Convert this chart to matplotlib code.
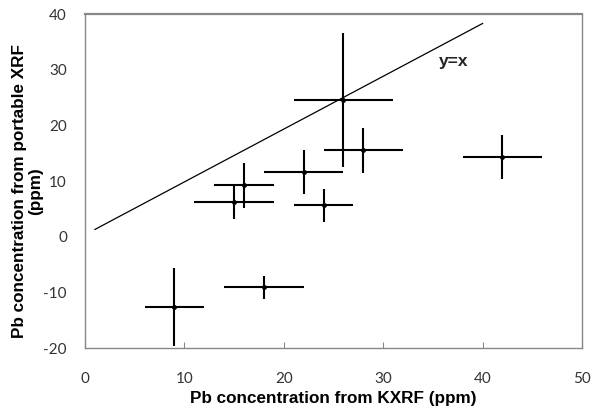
import matplotlib
matplotlib.use("Agg")
import matplotlib.pyplot as plt

plt.rcParams["axes.unicode_minus"] = False

# Data
x_kxrf = [9, 18, 15, 16, 22, 24, 26, 28, 42]
y_pxrf = [-12.7, -9.1, 6.2, 9.2, 11.6, 5.6, 24.5, 15.5, 14.3]
x_err = [3, 4, 4, 3, 4, 3, 5, 4, 4]
y_err = [7, 2.1, 3, 4, 4, 3, 12, 4, 4]

line_x = [1, 40]
line_y = [1.3, 38.3]

x_ticks = [0, 10, 20, 30, 40, 50]
y_ticks = [-20, -10, 0, 10, 20, 30, 40]

fig = plt.figure(figsize=(6.0, 4.19), dpi=100)
ax = fig.add_axes([85/600, 1-348/419, (582-85)/600, (348-14)/419])

ax.plot(line_x, line_y, color="black", lw=0.9)
ax.errorbar(x_kxrf, y_pxrf, xerr=x_err, yerr=y_err, fmt="o", color="black",
            ms=2.5, elinewidth=1.5, capsize=0)
ax.text(37.1, 31.5, "y=x", ha="center", va="center", fontsize=12.5,
        fontweight="bold", family="Liberation Sans", color="#222222")

ax.set_xlim(0, 50)
ax.set_ylim(-20, 40)
ax.set_xticks(x_ticks)
ax.set_yticks(y_ticks)
ax.tick_params(axis="x", direction="in", length=4, width=0.8, color="#888888",
               pad=17, labelsize=11, labelcolor="#333333")
ax.tick_params(axis="y", length=0, pad=13, labelsize=11, labelcolor="#333333")
for lab in ax.get_xticklabels() + ax.get_yticklabels():
    lab.set_family("Lato")
for sp in ax.spines.values():
    sp.set_color("#888888")
    sp.set_linewidth(1.0)
ax.spines["top"].set_linewidth(1.6)

ax.set_xlabel("Pb concentration from KXRF (ppm)", fontsize=12.3, fontweight="bold",
              family="Liberation Sans")
ax.set_ylabel("Pb concentration from portable XRF\n(ppm)", fontsize=12.3,
              fontweight="bold", family="Liberation Sans", linespacing=1.1)
ax.xaxis.set_label_coords(0.5, -0.128)
ax.yaxis.set_label_coords(-0.084, 0.47)

fig.savefig("out.png", dpi=100)
